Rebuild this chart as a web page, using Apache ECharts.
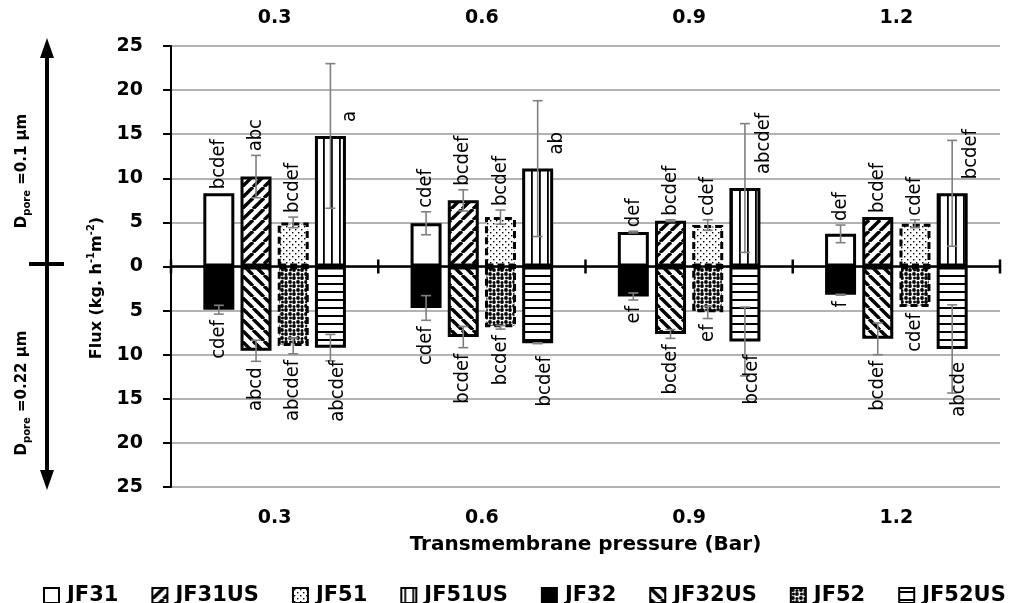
<!DOCTYPE html>
<html>
<head>
<meta charset="utf-8">
<script src="https://cdn.jsdelivr.net/npm/echarts@6/dist/echarts.min.js"></script>
<style>html,body{margin:0;padding:0;background:#fff}#c{width:1014px;height:603px}</style>
</head>
<body>
<div id="c"></div>
<script>
// ---------- data ----------
const categories = ['0.3', '0.6', '0.9', '1.2'];
const yTicks = [-25, -20, -15, -10, -5, 0, 5, 10, 15, 20, 25];
const seriesNames = ['JF31', 'JF31US', 'JF51', 'JF51US', 'JF32', 'JF32US', 'JF52', 'JF52US'];

// D_pore = 0.1 um (positive side)
const JF31 = [8.3, 4.9, 3.9, 3.7];
const JF31_err = [0, 1.3, 0.1, 1.0];
const JF31_lbl = ['bcdef', 'cdef', 'def', 'def'];
const JF31US = [10.2, 7.5, 5.2, 5.6];
const JF31US_err = [2.4, 1.2, 0.1, 0];
const JF31US_lbl = ['abc', 'bcdef', 'bcdef', 'bcdef'];
const JF51 = [5.0, 5.6, 4.7, 4.85];
const JF51_err = [0.6, 0.8, 0.6, 0.45];
const JF51_lbl = ['bcdef', 'bcdef', 'cdef', 'cdef'];
const JF51US = [14.8, 11.1, 8.9, 8.3];
const JF51US_err = [8.2, 7.7, 7.3, 6.0];
const JF51US_lbl = ['a', 'ab', 'abcdef', 'bcdef'];

// D_pore = 0.22 um (drawn downward)
const JF32 = [-4.9, -4.7, -3.4, -3.2];
const JF32_err = [0.5, 1.4, 0.4, 0.05];
const JF32_lbl = ['cdef', 'cdef', 'ef', 'f'];
const JF32US = [-9.55, -8.0, -7.65, -8.2];
const JF32US_err = [1.2, 1.2, 0.5, 1.8];
const JF32US_lbl = ['abcd', 'bcdef', 'bcdef', 'bcdef'];
const JF52 = [-9.0, -6.9, -5.2, -4.6];
const JF52_err = [0.9, 0.2, 0.7, 0];
const JF52_lbl = ['abcdef', 'bcdef', 'ef', 'cdef'];
const JF52US = [-9.2, -8.7, -8.5, -9.35];
const JF52US_err = [1.5, 0.05, 3.9, 5.0];
const JF52US_lbl = ['abcdef', 'bcdef', 'bcdef', 'abcde'];

// ---------- styling ----------
const BAR_W = 31, GAP_PCT = 20;
const STEP = BAR_W * (1 + GAP_PCT / 100);
const LABEL_FONT = '"Liberation Sans Narrow", "DejaVu Sans Condensed", "Liberation Sans", sans-serif';
const BOLD_FONT = '"DejaVu Sans", sans-serif';

function pattern(kind) {
  const c = document.createElement('canvas');
  let w = 10, h = 10;
  if (kind === 'fwd' || kind === 'back') { w = 11; h = 11; }
  if (kind === 'vert') { w = 8; h = 8; }
  if (kind === 'horiz') { w = 8; h = 8; }
  if (kind === 'dots') { w = 6; h = 6; }
  if (kind === 'blots') { w = 8; h = 8; }
  c.width = w; c.height = h;
  const g = c.getContext('2d');
  g.fillStyle = '#fff'; g.fillRect(0, 0, w, h);
  g.fillStyle = '#000'; g.strokeStyle = '#000';
  if (kind === 'fwd') {
    g.lineWidth = 3.4;
    for (const o of [-w, 0, w]) { g.beginPath(); g.moveTo(o, h); g.lineTo(o + w, 0); g.stroke(); }
  } else if (kind === 'back') {
    g.lineWidth = 3.4;
    for (const o of [-w, 0, w]) { g.beginPath(); g.moveTo(o, 0); g.lineTo(o + w, h); g.stroke(); }
  } else if (kind === 'vert') {
    g.fillRect(3, 0, 1.8, h);
  } else if (kind === 'horiz') {
    g.fillRect(0, 3, w, 2);
  } else if (kind === 'dots') {
    g.fillRect(1, 1, 1.4, 1.4); g.fillRect(4, 4, 1.4, 1.4);
  } else if (kind === 'blots') {
    const pts = [[2, 2, 1.9], [6, 2.5, 1.5], [2.5, 6, 1.5], [6, 6, 1.9]];
    for (const p of pts) { g.beginPath(); g.arc(p[0], p[1], p[2], 0, Math.PI * 2); g.fill(); }
  }
  return { image: c, repeat: 'repeat' };
}

const seriesDefs = [
  { name: 'JF31', data: JF31, err: JF31_err, lbl: JF31_lbl, slot: 0, fill: '#fff', dash: 'solid' },
  { name: 'JF31US', data: JF31US, err: JF31US_err, lbl: JF31US_lbl, slot: 1, fill: pattern('fwd'), dash: 'solid' },
  { name: 'JF51', data: JF51, err: JF51_err, lbl: JF51_lbl, slot: 2, fill: pattern('dots'), dash: [7, 4] },
  { name: 'JF51US', data: JF51US, err: JF51US_err, lbl: JF51US_lbl, slot: 3, fill: pattern('vert'), dash: 'solid' },
  { name: 'JF32', data: JF32, err: JF32_err, lbl: JF32_lbl, slot: 0, fill: '#000', dash: 'solid' },
  { name: 'JF32US', data: JF32US, err: JF32US_err, lbl: JF32US_lbl, slot: 1, fill: pattern('back'), dash: 'solid' },
  { name: 'JF52', data: JF52, err: JF52_err, lbl: JF52_lbl, slot: 2, fill: pattern('blots'), dash: [7, 4] },
  { name: 'JF52US', data: JF52US, err: JF52US_err, lbl: JF52US_lbl, slot: 3, fill: pattern('horiz'), dash: 'solid' }
];

const series = [];
seriesDefs.forEach(d => {
  series.push({
    name: d.name, type: 'bar', stack: 's' + d.slot, xAxisIndex: 0, yAxisIndex: 0,
    barWidth: BAR_W, barGap: GAP_PCT + '%',
    data: d.data,
    itemStyle: { color: d.fill, borderColor: '#000', borderWidth: 3, borderType: d.dash },
    emphasis: { disabled: true },
    z: 2
  });
});
// crossing ticks on the zero line at category boundaries
series.push({
  type: 'custom', xAxisIndex: 0, yAxisIndex: 0, silent: true, z: 6,
  data: categories.map((c, i) => [i, 0]),
  renderItem: function (params, api) {
    const i = api.value(0);
    const p = api.coord([i, 0]);
    const half = api.size([1, 0])[0] / 2;
    const st = { stroke: '#000', lineWidth: 2.5 };
    const ch = [{ type: 'line', shape: { x1: p[0] - half, y1: p[1] - 7, x2: p[0] - half, y2: p[1] + 7 }, style: st }];
    if (i === categories.length - 1) {
      ch.push({ type: 'line', shape: { x1: p[0] + half, y1: p[1] - 7, x2: p[0] + half, y2: p[1] + 7 }, style: st });
    }
    return { type: 'group', children: ch };
  }
});
seriesDefs.forEach(d => {
  series.push({
    type: 'custom', xAxisIndex: 0, yAxisIndex: 0, silent: true, z: 4,
    data: d.data.map((v, i) => [i, v, d.err[i]]),
    renderItem: function (params, api) {
      const i = api.value(0), v = api.value(1), e = api.value(2);
      const base = api.coord([i, 0]);
      const x = base[0] + (d.slot - 1.5) * STEP;
      const yv = api.coord([i, v])[1];
      const yHi = api.coord([i, v + e])[1];
      const yLo = api.coord([i, v - e])[1];
      const children = [];
      const ls = { stroke: '#808080', lineWidth: 1.6 };
      if (e > 0) {
        children.push({ type: 'line', shape: { x1: x, y1: yHi, x2: x, y2: yLo }, style: ls });
        children.push({ type: 'line', shape: { x1: x - 5, y1: yHi, x2: x + 5, y2: yHi }, style: ls });
        children.push({ type: 'line', shape: { x1: x - 5, y1: yLo, x2: x + 5, y2: yLo }, style: ls });
      }
      const txt = d.lbl[params.dataIndex];
      let tx = x, ty, align;
      if (v >= 0) {
        align = 'left';
        if (d.name === 'JF51US') { tx = x + 19; ty = yv - 14; }
        else { ty = Math.min(yv, yHi) - 4; }
      } else {
        align = 'right';
        if (d.name === 'JF52US') { tx = x + 7; ty = yv + 13; }
        else { ty = Math.max(yv, yLo) + 6; }
      }
      children.push({
        type: 'text', x: tx, y: ty, rotation: Math.PI / 2,
        style: { text: txt, fill: '#000', fontSize: 20, fontFamily: LABEL_FONT, align: align, verticalAlign: 'middle' }
      });
      return { type: 'group', children: children };
    }
  });
});

const chart = echarts.init(document.getElementById('c'), null, { renderer: 'canvas' });
chart.setOption({
  animation: false,
  backgroundColor: '#fff',
  grid: { left: 171, right: 14, top: 46, bottom: 116, containLabel: false },
  legend: {
    data: seriesNames, left: 38, top: 580, width: 976, itemWidth: 15, itemHeight: 15, itemGap: 33,
    icon: 'rect',
    itemStyle: { borderColor: '#000', borderWidth: 2 },
    textStyle: { fontFamily: BOLD_FONT, fontWeight: 'bold', fontSize: 21, color: '#000', padding: [0, 0, 0, 3] },
    selectedMode: false
  },
  xAxis: [
    { type: 'category', data: categories, position: 'bottom', z: 5,
      axisLine: { onZero: true, lineStyle: { color: '#000', width: 2.5 } },
      axisTick: { show: false },
      axisLabel: { show: false }, splitLine: { show: false } },
    { type: 'category', data: categories, position: 'top',
      axisLine: { show: false, onZero: false }, axisTick: { show: false },
      axisLabel: { margin: 18, fontFamily: BOLD_FONT, fontWeight: 'bold', fontSize: 19, color: '#000' } },
    { type: 'category', data: categories, position: 'bottom',
      axisLine: { show: false, onZero: false }, axisTick: { show: false },
      axisLabel: { margin: 22, fontFamily: BOLD_FONT, fontWeight: 'bold', fontSize: 19, color: '#000' },
      name: 'Transmembrane pressure (Bar)', nameLocation: 'middle', nameGap: 48,
      nameTextStyle: { fontFamily: BOLD_FONT, fontWeight: 'bold', fontSize: 20, color: '#000' } }
  ],
  yAxis: {
    type: 'value', min: yTicks[0], max: yTicks[yTicks.length - 1], interval: 5,
    axisLine: { show: true, onZero: false, lineStyle: { color: '#000', width: 2 } },
    axisTick: { show: true, length: 8, lineStyle: { color: '#000', width: 2 } },
    axisLabel: { margin: 28, fontFamily: BOLD_FONT, fontWeight: 'bold', fontSize: 19, color: '#000',
      formatter: v => String(Math.abs(v)) },
    splitLine: { show: true, lineStyle: { color: '#9a9a9a', width: 1.5 } }
  },
  graphic: [
    { type: 'line', shape: { x1: 47, y1: 56, x2: 47, y2: 472 }, style: { stroke: '#000', lineWidth: 4 } },
    { type: 'polygon', shape: { points: [[47, 38], [40, 58], [54, 58]] }, style: { fill: '#000' } },
    { type: 'polygon', shape: { points: [[47, 490], [40, 470], [54, 470]] }, style: { fill: '#000' } },
    { type: 'line', shape: { x1: 29, y1: 264, x2: 64, y2: 264 }, style: { stroke: '#000', lineWidth: 4 } },
    { type: 'text', x: 22, y: 171, rotation: Math.PI / 2,
      style: { text: '{a|D}{s|pore}{a| =0.1 μm}', align: 'center', verticalAlign: 'middle',
        rich: { a: { fontFamily: BOLD_FONT, fontWeight: 'bold', fontSize: 15, lineHeight: 20, fill: '#000', color: '#000' },
                s: { fontFamily: BOLD_FONT, fontWeight: 'bold', fontSize: 10, lineHeight: 12, verticalAlign: 'bottom', fill: '#000', color: '#000' } } } },
    { type: 'text', x: 22, y: 393, rotation: Math.PI / 2,
      style: { text: '{a|D}{s|pore}{a| =0.22 μm}', align: 'center', verticalAlign: 'middle',
        rich: { a: { fontFamily: BOLD_FONT, fontWeight: 'bold', fontSize: 15, lineHeight: 20, fill: '#000', color: '#000' },
                s: { fontFamily: BOLD_FONT, fontWeight: 'bold', fontSize: 10, lineHeight: 12, verticalAlign: 'bottom', fill: '#000', color: '#000' } } } },
    { type: 'text', x: 97, y: 288, rotation: Math.PI / 2,
      style: { text: '{a|Flux (kg. h}{p|-1}{a|m}{p|-2}{a|)}', align: 'center', verticalAlign: 'middle',
        rich: { a: { fontFamily: BOLD_FONT, fontWeight: 'bold', fontSize: 16, lineHeight: 22, fill: '#000', color: '#000' },
                p: { fontFamily: BOLD_FONT, fontWeight: 'bold', fontSize: 10, lineHeight: 14, verticalAlign: 'top', fill: '#000', color: '#000' } } } }
  ],
  series: series
});
</script>
</body>
</html>
